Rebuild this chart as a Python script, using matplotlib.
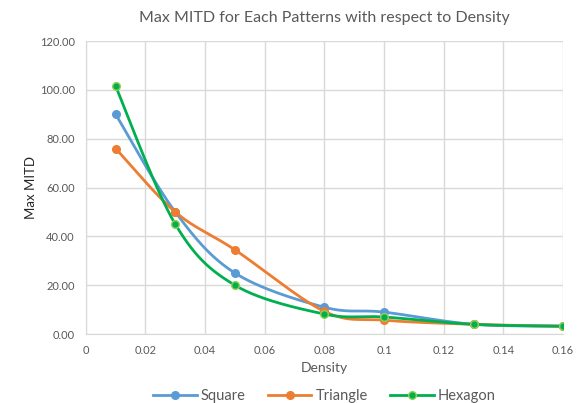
import numpy as np
import matplotlib
matplotlib.use('Agg')
import matplotlib.pyplot as plt

plt.rcParams['font.family'] = ['Lato', 'DejaVu Sans']

density  = [0.01, 0.03, 0.05, 0.08, 0.10, 0.13, 0.16]
square   = [90.0, 50.0, 25.0, 11.0, 9.0, 4.0, 3.3]
triangle = [76.0, 50.0, 34.5, 9.3, 5.7, 4.0, 3.2]
hexagon  = [101.5, 45.0, 20.0, 8.2, 7.0, 4.0, 3.2]

GREY = '#595959'
GRID = '#d9d9d9'


def smooth(xs, ys, n=30):
    # Excel-like smoothed line (Catmull-Rom as cubic Bezier)
    xs, ys = np.asarray(xs, float), np.asarray(ys, float)
    px = np.concatenate([[xs[0]], xs, [xs[-1]]])
    py = np.concatenate([[ys[0]], ys, [ys[-1]]])
    t = np.linspace(0, 1, n)[:, None]
    outx, outy = [], []
    for i in range(1, len(px) - 2):
        p0 = np.array([px[i], py[i]])
        p3 = np.array([px[i + 1], py[i + 1]])
        c1 = p0 + (p3 - np.array([px[i - 1], py[i - 1]])) / 6
        c2 = p3 - (np.array([px[i + 2], py[i + 2]]) - p0) / 6
        b = ((1 - t) ** 3) * p0 + 3 * ((1 - t) ** 2) * t * c1 + 3 * (1 - t) * t ** 2 * c2 + t ** 3 * p3
        outx.extend(b[:, 0]); outy.extend(b[:, 1])
    return outx, outy


fig = plt.figure(figsize=(5.84, 4.03), dpi=100, facecolor='white')
ax = fig.add_axes([0.147, 0.171, 0.817, 0.727])

series = [
    ('Square', square, '#5B9BD5', '#5B9BD5'),
    ('Triangle', triangle, '#ED7D31', '#ED7D31'),
    ('Hexagon', hexagon, '#00B050', '#92D050'),
]
for name, ys, col, edge in series:
    sx, sy = smooth(density, ys)
    ax.plot(sx, sy, color=col, lw=2, zorder=3)
    ax.plot(density, ys, 'o', color=col, mec=edge, mew=1, ms=5.5, zorder=4)
    ax.plot([], [], '-o', color=col, mec=edge, lw=2, ms=5.5, label=name)

ax.set_xlim(0, 0.16)
ax.set_ylim(0, 120)
ax.set_xticks(np.arange(0, 0.161, 0.02))
ax.set_xticklabels(['0', '0.02', '0.04', '0.06', '0.08', '0.1', '0.12', '0.14', '0.16'])
ax.set_yticks(np.arange(0, 121, 20))
ax.yaxis.set_major_formatter(plt.FuncFormatter(lambda v, _: f'{v:.2f}'))
ax.tick_params(length=0, labelsize=8, colors=GREY, pad=8)
ax.grid(True, color=GRID, lw=1, zorder=0)
for s in ['top', 'right']:
    ax.spines[s].set_visible(False)
for s in ['left', 'bottom']:
    ax.spines[s].set_color(GRID)

ax.set_title('Max MITD for Each Patterns with respect to Density', fontsize=11.5, color=GREY, pad=14)
ax.set_xlabel('Density', fontsize=10, color=GREY, labelpad=4)
ax.set_ylabel('Max MITD', fontsize=9.5, color='#262626', labelpad=2)

ax.legend(loc='center', bbox_to_anchor=(0.5, -0.21), ncol=3, frameon=False,
          fontsize=10.5, labelcolor=GREY, handlelength=3, columnspacing=1.5, handletextpad=0.3)

fig.savefig('out.png', dpi=100, facecolor='white')
